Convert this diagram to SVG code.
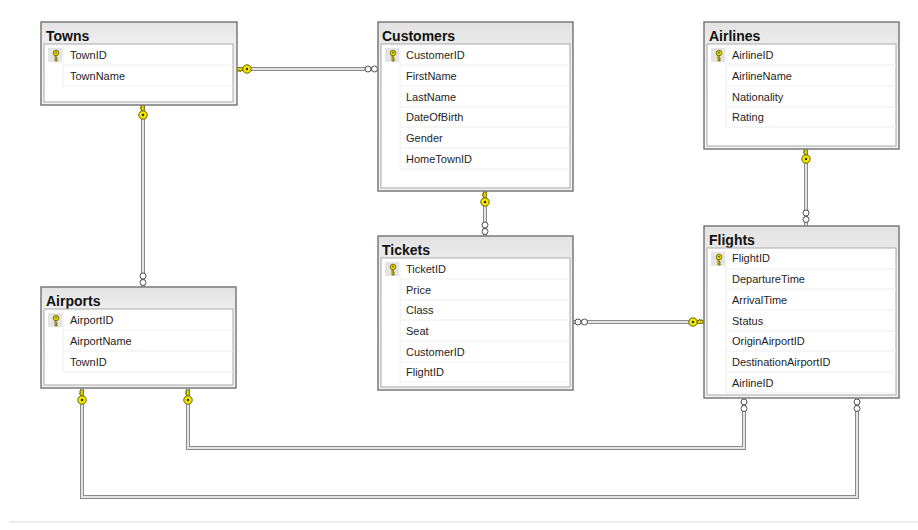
<svg xmlns="http://www.w3.org/2000/svg" xmlns:xlink="http://www.w3.org/1999/xlink" width="918" height="530" viewBox="0 0 918 530">
  <style>
    .outer { fill: url(#hdr); stroke: #7a7a7a; stroke-width: 1.5; }
    .inner { fill: #ffffff; stroke: #a9a9a9; stroke-width: 1; }
    .sep { stroke: #eeeeee; stroke-width: 1; }
    .keycell { fill: #e4e4e4; }
    .title { font-family: "Liberation Sans", Arial, sans-serif; font-size: 14px; font-weight: bold; fill: #111111; }
    .col { font-family: "Liberation Sans", Arial, sans-serif; font-size: 11px; fill: #1e1e1e; }
    .rel-o { fill: none; stroke: #8a8a8a; stroke-width: 4; }
    .rel-i { fill: none; stroke: #e4e4e4; stroke-width: 2; }
  </style>
  <defs>
    <linearGradient id="hdr" x1="0" y1="0" x2="0" y2="1">
      <stop offset="0" stop-color="#e2e2e2"/>
      <stop offset="0.2" stop-color="#ededed"/>
      <stop offset="1" stop-color="#f2f2f2"/>
    </linearGradient>
    <!-- foreign-key end: ring head at origin, bit pointing towards -x -->
    <g id="fkey">
      <path d="M-10,-1.2 H-4 V1.2 H-6 V2.6 H-7.2 V1.2 H-8 V2.2 H-9 V1.2 H-10 Z" fill="#f3e600" stroke="#6d6400" stroke-width="0.8"/>
      <circle cx="0" cy="0" r="4.2" fill="#f3e600" stroke="#6d6400" stroke-width="1"/>
      <circle cx="0" cy="0" r="1.2" fill="#2b2b00"/>
    </g>
    <!-- many end: two small rings along the line -->
    <g id="many">
      <circle cx="0" cy="0" r="3" fill="#ffffff" stroke="#505050" stroke-width="1"/>
      <circle cx="6.5" cy="0" r="3" fill="#ffffff" stroke="#505050" stroke-width="1"/>
    </g>
    <!-- primary key marker shown in a column row -->
    <g id="pk">
      <path d="M-1,1 V7 H1.2 V6 H0.2 V5 H1.2 V4 H0.2 V1 Z" fill="#e8dc00" stroke="#5f5800" stroke-width="0.7"/>
      <circle cx="0" cy="-1" r="2.8" fill="#e8dc00" stroke="#5f5800" stroke-width="0.8"/>
      <circle cx="0" cy="-1.4" r="0.8" fill="#3a3500"/>
    </g>
  </defs>

  <rect x="0" y="0" width="918" height="530" fill="#ffffff"/>

  <!-- relationship lines -->
  <g id="connectors">
    <g id="rel-towns-customers">
      <path class="rel-o" d="M237,69 H378"/><path class="rel-i" d="M237,69 H378"/>
      <use xlink:href="#fkey" transform="translate(247,69)"/>
      <use xlink:href="#many" transform="translate(368,69)"/>
    </g>
    <g id="rel-towns-airports">
      <path class="rel-o" d="M143,105 V287"/><path class="rel-i" d="M143,105 V287"/>
      <use xlink:href="#fkey" transform="translate(143,115) rotate(90)"/>
      <use xlink:href="#many" transform="translate(143,276) rotate(90)"/>
    </g>
    <g id="rel-customers-tickets">
      <path class="rel-o" d="M485,191 V236"/><path class="rel-i" d="M485,191 V236"/>
      <use xlink:href="#fkey" transform="translate(485,202) rotate(90)"/>
      <use xlink:href="#many" transform="translate(485,225) rotate(90)"/>
    </g>
    <g id="rel-flights-tickets">
      <path class="rel-o" d="M573,322 H704"/><path class="rel-i" d="M573,322 H704"/>
      <use xlink:href="#fkey" transform="translate(693,322) rotate(180)"/>
      <use xlink:href="#many" transform="translate(578,322)"/>
    </g>
    <g id="rel-airlines-flights">
      <path class="rel-o" d="M806,149 V226"/><path class="rel-i" d="M806,149 V226"/>
      <use xlink:href="#fkey" transform="translate(806,159) rotate(90)"/>
      <use xlink:href="#many" transform="translate(806,213) rotate(90)"/>
    </g>
    <g id="rel-airports-flights-origin">
      <path class="rel-o" d="M188,388 V448 H744 V398"/><path class="rel-i" d="M188,388 V448 H744 V398"/>
      <use xlink:href="#fkey" transform="translate(188,400) rotate(90)"/>
      <use xlink:href="#many" transform="translate(744,402) rotate(90)"/>
    </g>
    <g id="rel-airports-flights-destination">
      <path class="rel-o" d="M82,388 V497 H857 V398"/><path class="rel-i" d="M82,388 V497 H857 V398"/>
      <use xlink:href="#fkey" transform="translate(82,400) rotate(90)"/>
      <use xlink:href="#many" transform="translate(857,402) rotate(90)"/>
    </g>
  </g>

  <!-- Towns -->
  <g id="towns">
    <rect class="outer" x="41" y="22" width="196" height="83"/>
    <text class="title" x="46" y="41">Towns</text>
    <rect class="inner" x="44" y="44" width="189" height="58"/>
    <line class="sep" x1="63" y1="65" x2="233" y2="65"/>
    <line class="sep" x1="63" y1="86" x2="233" y2="86"/>
    <line class="sep" x1="63" y1="44" x2="63" y2="86"/>
    <rect class="keycell" x="48" y="48" width="14" height="14"/>
    <use xlink:href="#pk" transform="translate(56,54)"/>
    <text class="col" x="70" y="59">TownID</text>
    <text class="col" x="70" y="80">TownName</text>
  </g>

  <!-- Customers -->
  <g id="customers">
    <rect class="outer" x="378" y="22" width="195" height="169"/>
    <text class="title" x="382" y="41">Customers</text>
    <rect class="inner" x="381" y="44" width="189" height="144"/>
    <line class="sep" x1="400" y1="65" x2="570" y2="65"/>
    <line class="sep" x1="400" y1="86" x2="570" y2="86"/>
    <line class="sep" x1="400" y1="107" x2="570" y2="107"/>
    <line class="sep" x1="400" y1="127" x2="570" y2="127"/>
    <line class="sep" x1="400" y1="148" x2="570" y2="148"/>
    <line class="sep" x1="400" y1="169" x2="570" y2="169"/>
    <line class="sep" x1="400" y1="44" x2="400" y2="169"/>
    <rect class="keycell" x="385" y="48" width="14" height="14"/>
    <use xlink:href="#pk" transform="translate(393,54)"/>
    <text class="col" x="406" y="59">CustomerID</text>
    <text class="col" x="406" y="80">FirstName</text>
    <text class="col" x="406" y="101">LastName</text>
    <text class="col" x="406" y="121">DateOfBirth</text>
    <text class="col" x="406" y="142">Gender</text>
    <text class="col" x="406" y="163">HomeTownID</text>
  </g>

  <!-- Airlines -->
  <g id="airlines">
    <rect class="outer" x="704" y="22" width="195" height="127"/>
    <text class="title" x="709" y="41">Airlines</text>
    <rect class="inner" x="707" y="44" width="189" height="102"/>
    <line class="sep" x1="726" y1="65" x2="896" y2="65"/>
    <line class="sep" x1="726" y1="86" x2="896" y2="86"/>
    <line class="sep" x1="726" y1="107" x2="896" y2="107"/>
    <line class="sep" x1="726" y1="127" x2="896" y2="127"/>
    <line class="sep" x1="726" y1="44" x2="726" y2="127"/>
    <rect class="keycell" x="711" y="48" width="14" height="14"/>
    <use xlink:href="#pk" transform="translate(719,54)"/>
    <text class="col" x="732" y="59">AirlineID</text>
    <text class="col" x="732" y="80">AirlineName</text>
    <text class="col" x="732" y="101">Nationality</text>
    <text class="col" x="732" y="121">Rating</text>
  </g>

  <!-- Tickets -->
  <g id="tickets">
    <rect class="outer" x="378" y="236" width="195" height="154"/>
    <text class="title" x="382" y="255">Tickets</text>
    <rect class="inner" x="381" y="258" width="189" height="129"/>
    <line class="sep" x1="400" y1="279" x2="570" y2="279"/>
    <line class="sep" x1="400" y1="300" x2="570" y2="300"/>
    <line class="sep" x1="400" y1="320" x2="570" y2="320"/>
    <line class="sep" x1="400" y1="341" x2="570" y2="341"/>
    <line class="sep" x1="400" y1="362" x2="570" y2="362"/>
    <line class="sep" x1="400" y1="382" x2="570" y2="382"/>
    <line class="sep" x1="400" y1="258" x2="400" y2="382"/>
    <rect class="keycell" x="385" y="262" width="14" height="14"/>
    <use xlink:href="#pk" transform="translate(393,268)"/>
    <text class="col" x="406" y="273">TicketID</text>
    <text class="col" x="406" y="294">Price</text>
    <text class="col" x="406" y="314">Class</text>
    <text class="col" x="406" y="335">Seat</text>
    <text class="col" x="406" y="356">CustomerID</text>
    <text class="col" x="406" y="376">FlightID</text>
  </g>

  <!-- Flights -->
  <g id="flights">
    <rect class="outer" x="704" y="226" width="195" height="172"/>
    <text class="title" x="709" y="245">Flights</text>
    <rect class="inner" x="707" y="248" width="189" height="147"/>
    <line class="sep" x1="726" y1="269" x2="896" y2="269"/>
    <line class="sep" x1="726" y1="289" x2="896" y2="289"/>
    <line class="sep" x1="726" y1="310" x2="896" y2="310"/>
    <line class="sep" x1="726" y1="331" x2="896" y2="331"/>
    <line class="sep" x1="726" y1="351" x2="896" y2="351"/>
    <line class="sep" x1="726" y1="372" x2="896" y2="372"/>
    <line class="sep" x1="726" y1="393" x2="896" y2="393"/>
    <line class="sep" x1="726" y1="248" x2="726" y2="393"/>
    <rect class="keycell" x="711" y="252" width="14" height="14"/>
    <use xlink:href="#pk" transform="translate(719,258)"/>
    <text class="col" x="732" y="262">FlightID</text>
    <text class="col" x="732" y="283">DepartureTime</text>
    <text class="col" x="732" y="304">ArrivalTime</text>
    <text class="col" x="732" y="325">Status</text>
    <text class="col" x="732" y="345">OriginAirportID</text>
    <text class="col" x="732" y="366">DestinationAirportID</text>
    <text class="col" x="732" y="387">AirlineID</text>
  </g>

  <!-- Airports -->
  <g id="airports">
    <rect class="outer" x="41" y="287" width="195" height="101"/>
    <text class="title" x="46" y="306">Airports</text>
    <rect class="inner" x="44" y="309" width="189" height="76"/>
    <line class="sep" x1="63" y1="330" x2="233" y2="330"/>
    <line class="sep" x1="63" y1="351" x2="233" y2="351"/>
    <line class="sep" x1="63" y1="372" x2="233" y2="372"/>
    <line class="sep" x1="63" y1="309" x2="63" y2="372"/>
    <rect class="keycell" x="48" y="313" width="14" height="14"/>
    <use xlink:href="#pk" transform="translate(56,319)"/>
    <text class="col" x="70" y="324">AirportID</text>
    <text class="col" x="70" y="345">AirportName</text>
    <text class="col" x="70" y="366">TownID</text>
  </g>

  <!-- canvas edge -->
  <line x1="10" y1="522" x2="918" y2="522" stroke="#ececec" stroke-width="2"/>
</svg>
